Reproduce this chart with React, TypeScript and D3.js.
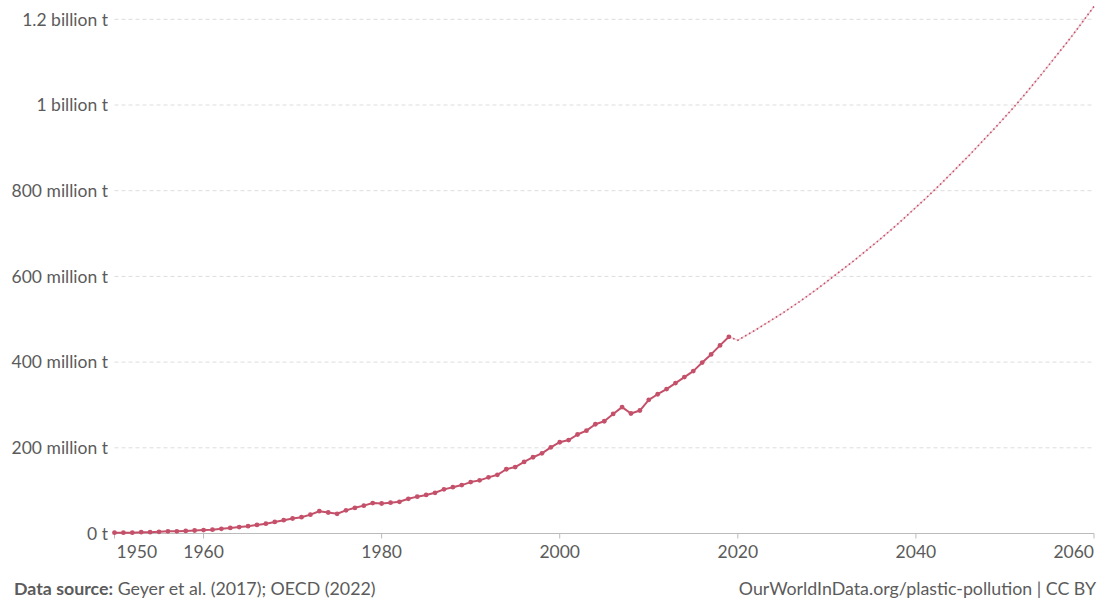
import React, { useEffect, useRef } from 'react';
import * as d3 from 'd3';

// Global plastics production, million tonnes
const historyYears: number[] = d3.range(1950, 2020);
const historyValues: number[] = [
  2, 2, 2, 3, 3, 4, 5, 5, 6, 7,
  8, 9, 11, 13, 15, 17, 20, 23, 27, 31,
  35, 38, 44, 52, 49, 46, 54, 60, 65, 71,
  70, 72, 74, 81, 86, 90, 95, 103, 108, 113,
  120, 124, 131, 137, 150, 155, 167, 178, 187, 201,
  213, 218, 231, 240, 255, 262, 279, 295, 280, 287,
  312, 325, 337, 351, 365, 379, 399, 418, 439, 459,
];

// OECD baseline projection, starting at the last observed year
const projectionYears: number[] = d3.range(2019, 2061);
const projectionValues: number[] = [
  459, 451, 463, 475, 488, 501, 514, 528, 542, 557,
  572, 588, 604, 620, 636, 653, 670, 687, 705, 723,
  742, 761, 780, 800, 820, 841, 862, 883, 905, 927,
  949, 972, 995, 1019, 1044, 1069, 1095, 1121, 1147, 1174,
  1202, 1230,
];

const yTicks: number[] = [0, 200, 400, 600, 800, 1000, 1200];
const yTickLabels: string[] = ['0 t', '200 million t', '400 million t', '600 million t', '800 million t', '1 billion t', '1.2 billion t'];
const xTicks: number[] = [1950, 1960, 1980, 2000, 2020, 2040, 2060];

const WIDTH = 1106;
const HEIGHT = 601;
const LINE_COLOR = '#c4506a';
const TEXT_COLOR = '#5b5b5b';
const FONT = 'Lato, "Noto Sans", sans-serif';

const App: React.FC = () => {
  const svgRef = useRef<SVGSVGElement>(null);

  useEffect(() => {
    if (!svgRef.current) return;
    const svg = d3.select(svgRef.current);
    svg.selectAll('*').remove();

    const x = d3.scaleLinear().domain([1950, 2060]).range([114.5, 1094]);
    const y = d3.scaleLinear().domain([0, 1200]).range([533.5, 19.3]);

    // grid lines + y labels
    const grid = svg.append('g');
    yTicks.forEach((t, i) => {
      if (t > 0) {
        grid.append('line')
          .attr('x1', x(1950)).attr('x2', x(2060))
          .attr('y1', y(t)).attr('y2', y(t))
          .attr('stroke', '#dddddd')
          .attr('stroke-width', 1)
          .attr('stroke-dasharray', '4,3');
      }
      grid.append('text')
        .attr('x', 108)
        .attr('y', y(t))
        .attr('dy', '0.36em')
        .attr('text-anchor', 'end')
        .attr('fill', TEXT_COLOR)
        .attr('font-size', '17.5px')
        .attr('font-family', FONT)
        .text(yTickLabels[i]);
    });

    // x axis
    const axis = svg.append('g');
    axis.append('line')
      .attr('x1', x(1950)).attr('x2', x(2060))
      .attr('y1', y(0)).attr('y2', y(0))
      .attr('stroke', '#bbbbbb');
    xTicks.forEach((t, i) => {
      axis.append('line')
        .attr('x1', x(t)).attr('x2', x(t))
        .attr('y1', y(0)).attr('y2', y(0) + 5)
        .attr('stroke', '#bbbbbb');
      const anchor = i === 0 ? 'start' : i === xTicks.length - 1 ? 'end' : 'middle';
      axis.append('text')
        .attr('x', i === 0 ? x(t) + 2 : x(t))
        .attr('y', 558)
        .attr('text-anchor', anchor)
        .attr('fill', TEXT_COLOR)
        .attr('font-size', '17.5px')
        .attr('font-family', FONT)
        .text(String(t));
    });

    // projection (dotted)
    const projLine = d3.line<number>()
      .x((_, i) => x(projectionYears[i]))
      .y(d => y(d));
    svg.append('path')
      .datum(projectionValues)
      .attr('d', projLine)
      .attr('fill', 'none')
      .attr('stroke', LINE_COLOR)
      .attr('stroke-opacity', 0.25)
      .attr('stroke-width', 1.5);
    svg.append('path')
      .datum(projectionValues)
      .attr('d', projLine)
      .attr('fill', 'none')
      .attr('stroke', LINE_COLOR)
      .attr('stroke-width', 1.6)
      .attr('stroke-dasharray', '1.5,3');

    // observed line with markers
    const histLine = d3.line<number>()
      .x((_, i) => x(historyYears[i]))
      .y(d => y(d));
    svg.append('path')
      .datum(historyValues)
      .attr('d', histLine)
      .attr('fill', 'none')
      .attr('stroke', LINE_COLOR)
      .attr('stroke-width', 2)
      .attr('stroke-linejoin', 'round');
    svg.append('g')
      .selectAll('circle')
      .data(historyValues)
      .enter()
      .append('circle')
      .attr('cx', (_, i) => x(historyYears[i]))
      .attr('cy', d => y(d))
      .attr('r', 2.4)
      .attr('fill', LINE_COLOR);

    // footer
    const footer = svg.append('text')
      .attr('x', 14)
      .attr('y', 595)
      .attr('fill', TEXT_COLOR)
      .attr('font-size', '17.8px')
      .attr('font-family', FONT);
    footer.append('tspan').attr('font-weight', 700).text('Data source:');
    footer.append('tspan').text(' Geyer et al. (2017); OECD (2022)');

    svg.append('text')
      .attr('x', 1096)
      .attr('y', 595)
      .attr('text-anchor', 'end')
      .attr('fill', TEXT_COLOR)
      .attr('font-size', '17.8px')
      .attr('font-family', FONT)
      .text('OurWorldInData.org/plastic-pollution | CC BY');
  }, []);

  return (
    <svg
      ref={svgRef}
      width={WIDTH}
      height={HEIGHT}
      style={{ position: 'absolute', left: 0, top: 0, background: '#ffffff' }}
    />
  );
};

export default App;
